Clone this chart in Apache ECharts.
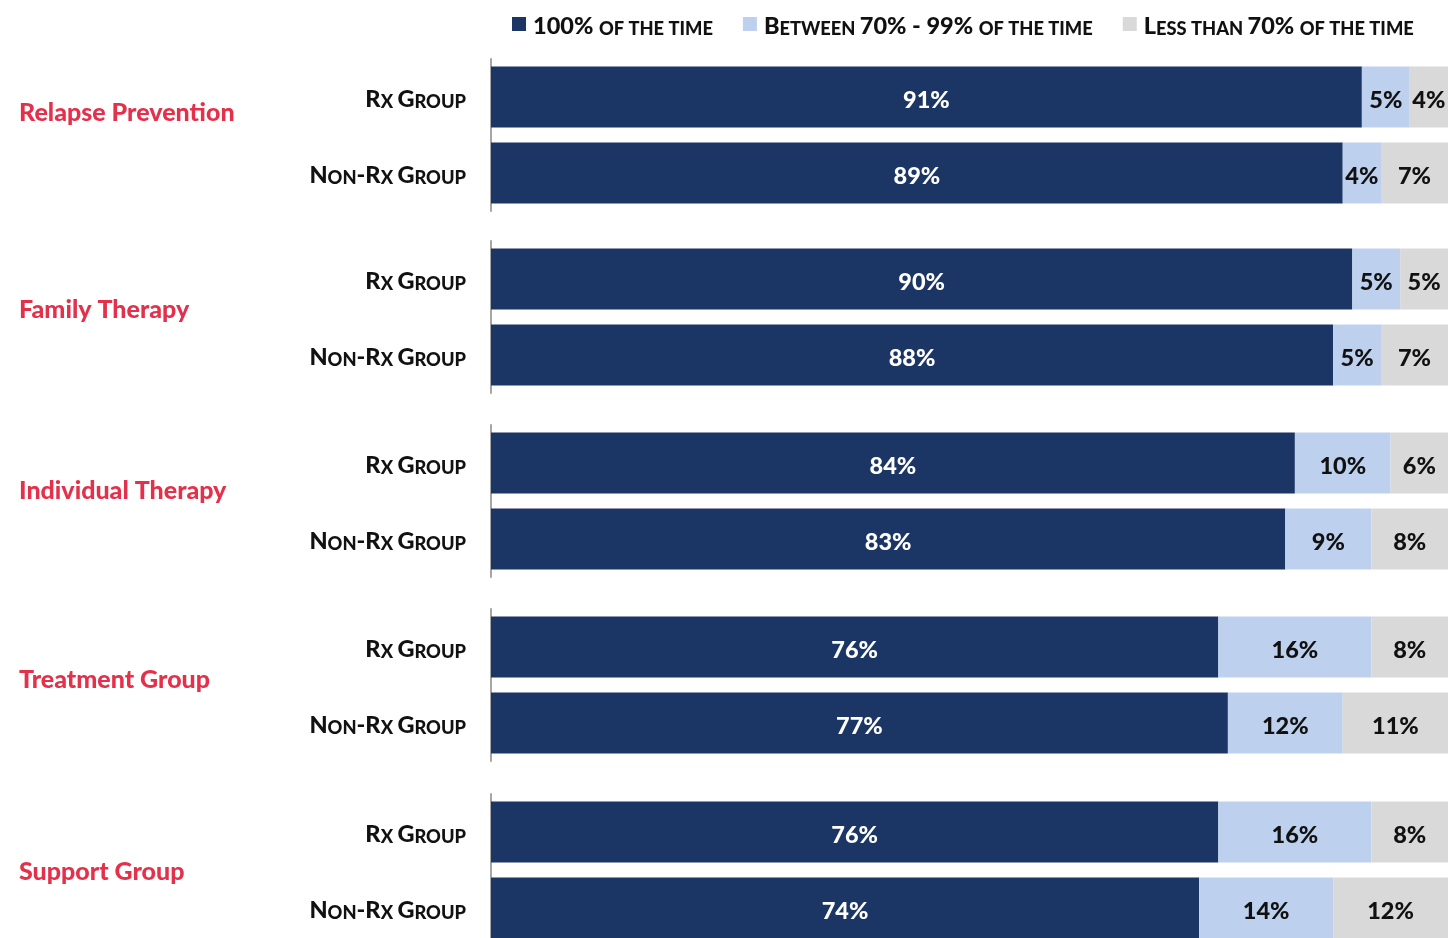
<!DOCTYPE html>
<html>
<head>
<meta charset="utf-8">
<script src="https://cdn.jsdelivr.net/npm/echarts@6/dist/echarts.min.js"></script>
<style>
  html, body { margin: 0; padding: 0; background: #ffffff; overflow: hidden; }
  #chart { width: 1452px; height: 950px; }
</style>
</head>
<body>
<div id="chart"></div>
<script>
// ---- Data ----
const categories = ['Relapse Prevention', 'Family Therapy', 'Individual Therapy', 'Treatment Group', 'Support Group'];
const groups = ['Rx Group', 'Non-Rx Group'];
const seriesNames = ['100% of the time', 'Between 70% - 99% of the time', 'Less than 70% of the time'];
// [Rx Group, Non-Rx Group] for each category
const pctAlways = [[91, 89], [90, 88], [84, 83], [76, 77], [76, 74]];
const pct70to99 = [[5, 4], [5, 5], [10, 9], [16, 12], [16, 14]];
const pctBelow70 = [[4, 7], [5, 7], [6, 8], [8, 11], [8, 12]];

// ---- Styling ----
const FONT = 'Lato';
const W = '900';
const colors = ['#1b3564', '#bdd1ee', '#d9d9d9'];
const labelColors = ['#ffffff', '#111111', '#111111'];
const gridTops = [59, 241, 425, 609, 794];
const catLabelY = [112, 309, 490, 679, 871];

function smallCaps(str) {
  let out = '', cur = '', curType = null;
  for (const ch of str) {
    const t = (ch >= 'a' && ch <= 'z') ? 's' : (ch === ' ' && curType ? curType : 'b');
    if (curType !== null && t !== curType) {
      out += '{' + curType + '|' + (curType === 's' ? cur.toUpperCase() : cur) + '}';
      cur = '';
    }
    curType = t;
    cur += ch;
  }
  if (cur) out += '{' + curType + '|' + (curType === 's' ? cur.toUpperCase() : cur) + '}';
  return out;
}

const richCaps = {
  b: { fontFamily: FONT, fontWeight: W, fontSize: 23.5, color: '#111', verticalAlign: 'bottom', lineHeight: 28 },
  s: { fontFamily: FONT, fontWeight: W, fontSize: 18.3, color: '#111', verticalAlign: 'bottom', lineHeight: 28 }
};

const grids = [], xAxes = [], yAxes = [], series = [];
categories.forEach((cat, i) => {
  grids.push({ left: 491, right: 4, top: gridTops[i], height: 152, containLabel: false });
  xAxes.push({ type: 'value', gridIndex: i, min: 0, max: 100, show: false });
  yAxes.push({
    type: 'category', gridIndex: i, data: groups, inverse: true,
    axisLine: { show: true, lineStyle: { color: '#a6a6a6', width: 2 } },
    axisTick: { show: false },
    axisLabel: { margin: 25, formatter: v => smallCaps(v), rich: richCaps }
  });
  const sets = [pctAlways[i], pct70to99[i], pctBelow70[i]];
  sets.forEach((vals, k) => {
    series.push({
      name: seriesNames[k], type: 'bar', stack: 'g' + i,
      xAxisIndex: i, yAxisIndex: i, data: vals, barWidth: 61,
      itemStyle: { color: colors[k] },
      label: {
        show: true, position: 'inside', formatter: p => p.value + '%', offset: [0, 3],
        color: labelColors[k], fontFamily: FONT, fontWeight: W, fontSize: 23.5
      },
      emphasis: { disabled: true }
    });
  });
});

const chart = echarts.init(document.getElementById('chart'), null, { renderer: 'canvas' });
chart.setOption({
  animation: false,
  backgroundColor: '#ffffff',
  legend: {
    data: seriesNames, left: 507, top: 9, icon: 'rect', itemWidth: 14, itemHeight: 14, itemGap: 30,
    formatter: n => smallCaps(n),
    textStyle: { rich: richCaps, padding: [0, 0, 0, 2] }
  },
  grid: grids, xAxis: xAxes, yAxis: yAxes, series: series,
  graphic: categories.map((c, i) => ({
    type: 'text', left: 19, top: catLabelY[i] - 12,
    style: { text: c, fill: '#e5304b', font: W + ' 25px ' + FONT }
  }))
});
</script>
</body>
</html>
